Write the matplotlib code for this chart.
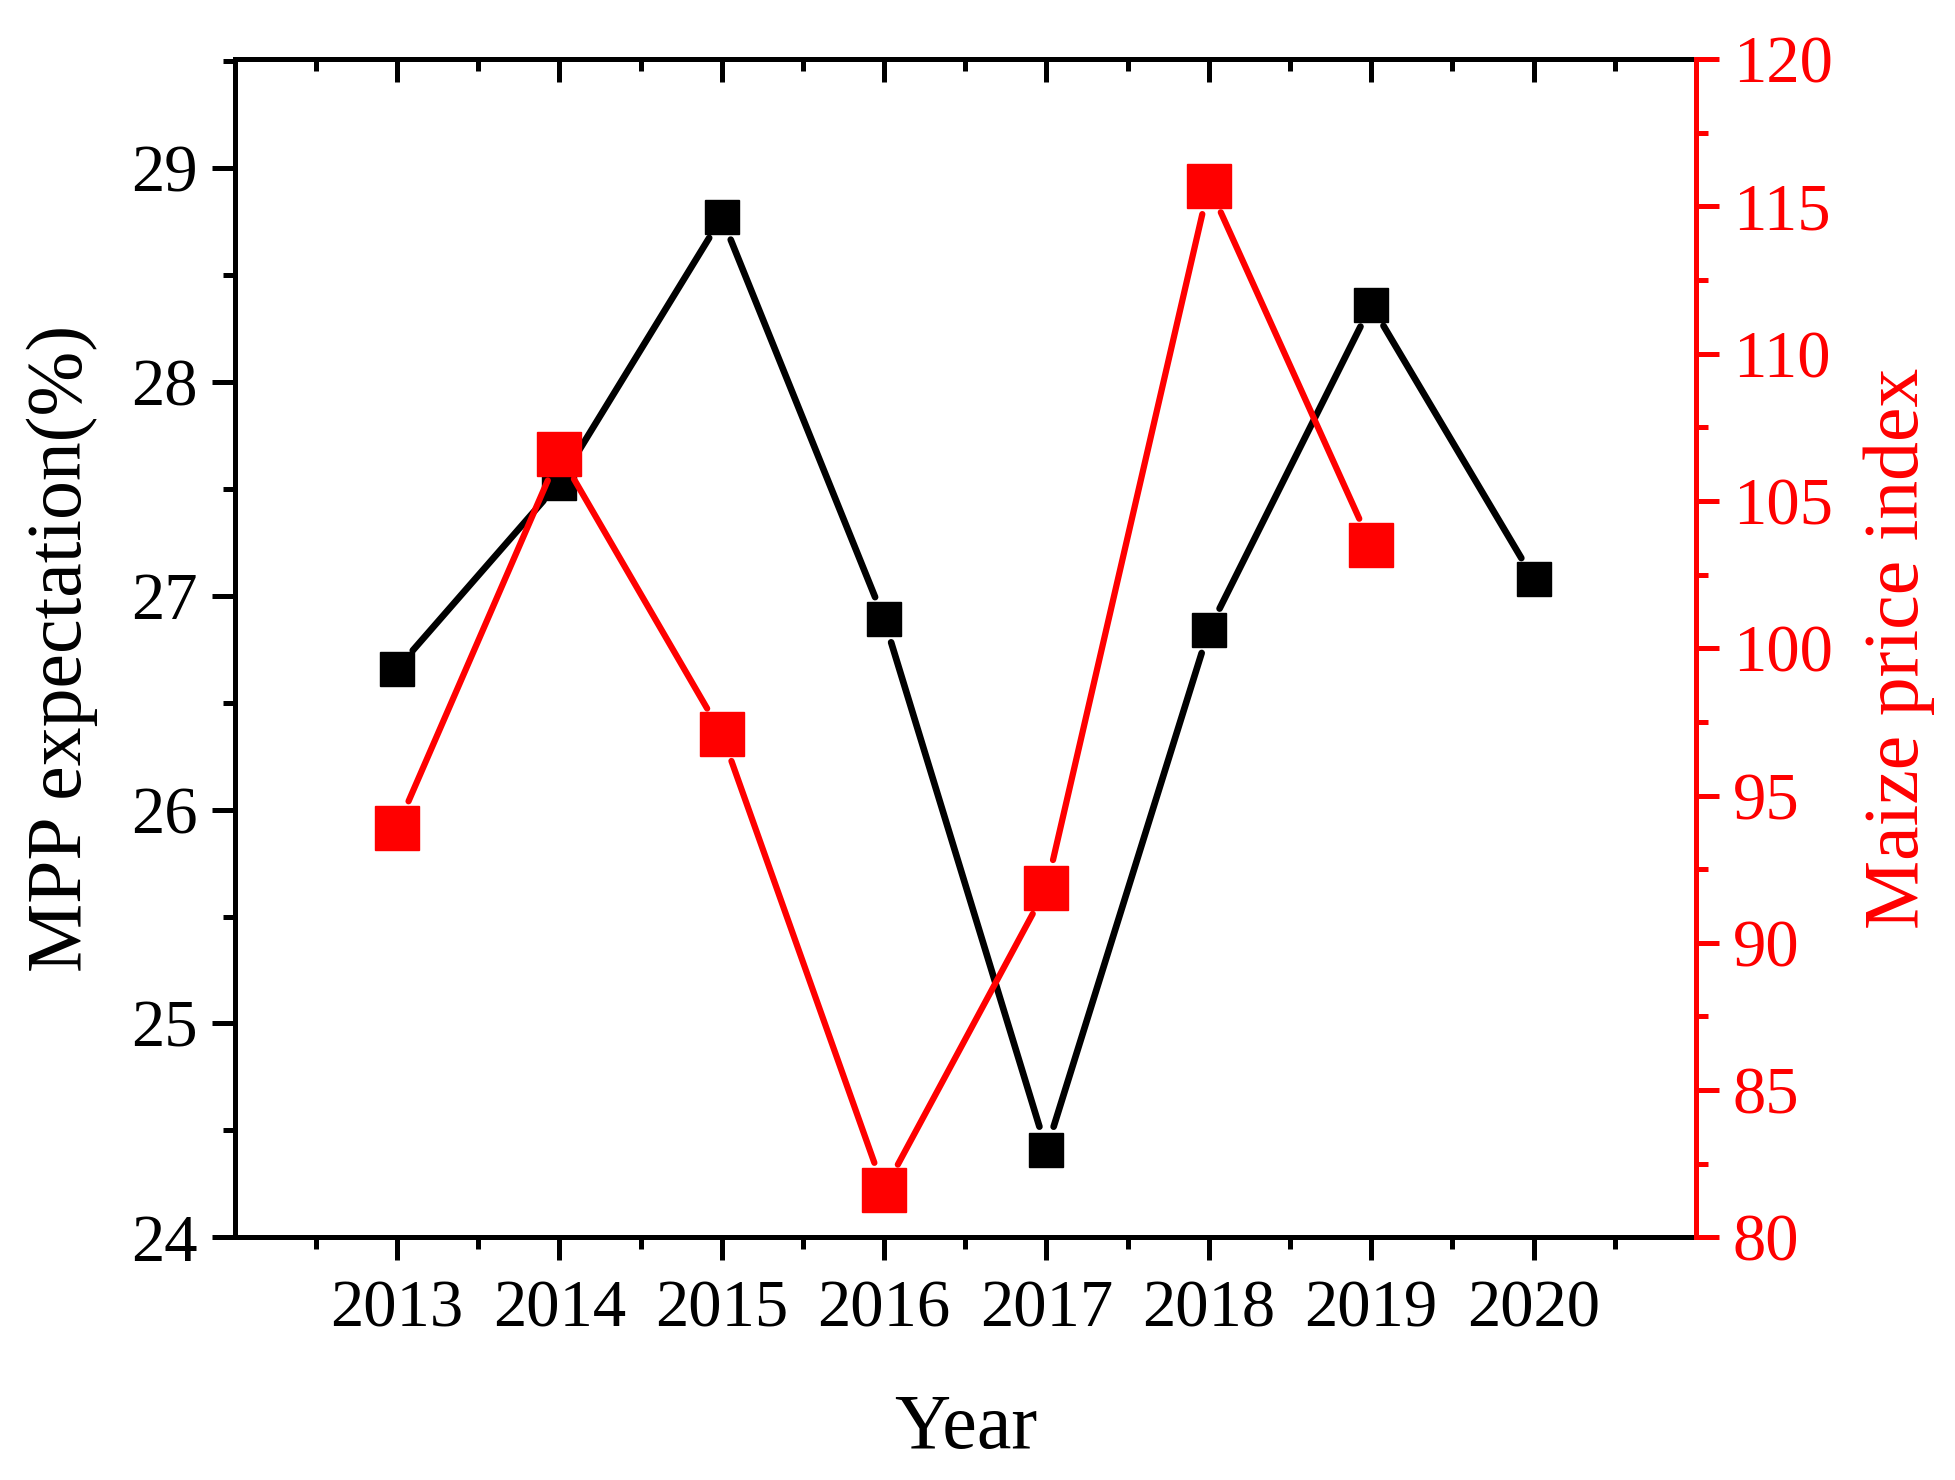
import numpy as np
import matplotlib
matplotlib.use("Agg")
import matplotlib.pyplot as plt
from matplotlib.ticker import FixedLocator, MultipleLocator

# ── Data ──────────────────────────────────────────────────────
years = [2013, 2014, 2015, 2016, 2017, 2018, 2019, 2020]
mpp_expectation = [26.66, 27.53, 28.77, 26.89, 24.41, 26.84, 28.36, 27.08]
price_years = [2013, 2014, 2015, 2016, 2017, 2018, 2019]
maize_price_index = [93.9, 106.6, 97.1, 81.6, 91.85, 115.7, 103.5]

# ── Style ─────────────────────────────────────────────────────
plt.rcParams.update({
    "font.family": ["Liberation Serif", "DejaVu Serif"],
    "font.size": 48,
    "axes.linewidth": 3.6,
})

RED = "#ff0000"
SPW = 3.6  # spine / tick width


def gapped_line(ax, xs, ys, color, lw, gap_px):
    """Origin-style line: each segment stops short of the markers."""
    ax.figure.canvas.draw()
    pts = ax.transData.transform(np.column_stack([xs, ys]))
    inv = ax.transData.inverted()
    for p0, p1 in zip(pts[:-1], pts[1:]):
        d = p1 - p0
        u = d / np.hypot(*d)
        q = inv.transform(np.array([p0 + u * gap_px, p1 - u * gap_px]))
        ax.plot(q[:, 0], q[:, 1], color=color, lw=lw,
                solid_capstyle="round", zorder=2)


# ── Figure ────────────────────────────────────────────────────
fig = plt.figure(figsize=(19.55, 14.8), dpi=100)
ax = fig.add_axes([0.120, 0.164, 0.7475, 0.796])
ax_top = ax.twiny()
ax2 = ax.twinx()

ax.set_xlim(2012, 2021)
ax.set_ylim(24, 29.51)
ax2.set_ylim(80, 120)

minor_years = np.arange(2012.5, 2021, 1.0)
ax.xaxis.set_major_locator(FixedLocator(years))
ax.xaxis.set_minor_locator(FixedLocator(minor_years))
ax.yaxis.set_major_locator(MultipleLocator(1))
ax.yaxis.set_minor_locator(MultipleLocator(0.5))
ax2.yaxis.set_major_locator(MultipleLocator(5))
ax2.yaxis.set_minor_locator(MultipleLocator(2.5))

ax.tick_params(axis="x", which="both", direction="out", top=False, pad=14)
ax.tick_params(axis="y", which="both", direction="out", pad=10)
ax.tick_params(which="major", length=16.5, width=SPW)
ax.tick_params(which="minor", length=8.5, width=SPW)
ax2.tick_params(axis="y", which="both", direction="out", colors=RED,
                labelcolor=RED, pad=10)
ax2.tick_params(which="major", length=16.5, width=SPW)
ax2.tick_params(which="minor", length=8.5, width=SPW)
ax2.spines["right"].set_color(RED)
for side in ("left", "top", "bottom"):
    ax2.spines[side].set_visible(False)

# inward mirror ticks on the top spine
ax_top.set_xlim(ax.get_xlim())
ax_top.xaxis.set_major_locator(FixedLocator(years))
ax_top.xaxis.set_minor_locator(FixedLocator(minor_years))
ax_top.tick_params(axis="x", which="both", direction="in", top=True,
                   bottom=False, labeltop=False, labelbottom=False, width=SPW)
ax_top.tick_params(axis="x", which="major", length=16.5)
ax_top.tick_params(axis="x", which="minor", length=8.5)
for side in ("left", "right", "bottom"):
    ax_top.spines[side].set_visible(False)

# ── Series ────────────────────────────────────────────────────
gapped_line(ax, years, mpp_expectation, "black", 4.8, 24)
ax.plot(years, mpp_expectation, ls="none", marker="s", ms=24.5,
        color="black", mec="black", zorder=3)

gapped_line(ax2, price_years, maize_price_index, RED, 4.5, 29)
ax2.plot(price_years, maize_price_index, ls="none", marker="s", ms=31.5,
         color=RED, mec=RED, zorder=3)

# ── Labels ────────────────────────────────────────────────────
ax.set_xlabel("Year", fontsize=56, labelpad=38)
ax.set_ylabel("MPP expectation(%)", fontsize=56, labelpad=24)
ax2.set_ylabel("Maize price index", fontsize=56, color=RED, labelpad=22)

fig.savefig("out.png", dpi=100)
